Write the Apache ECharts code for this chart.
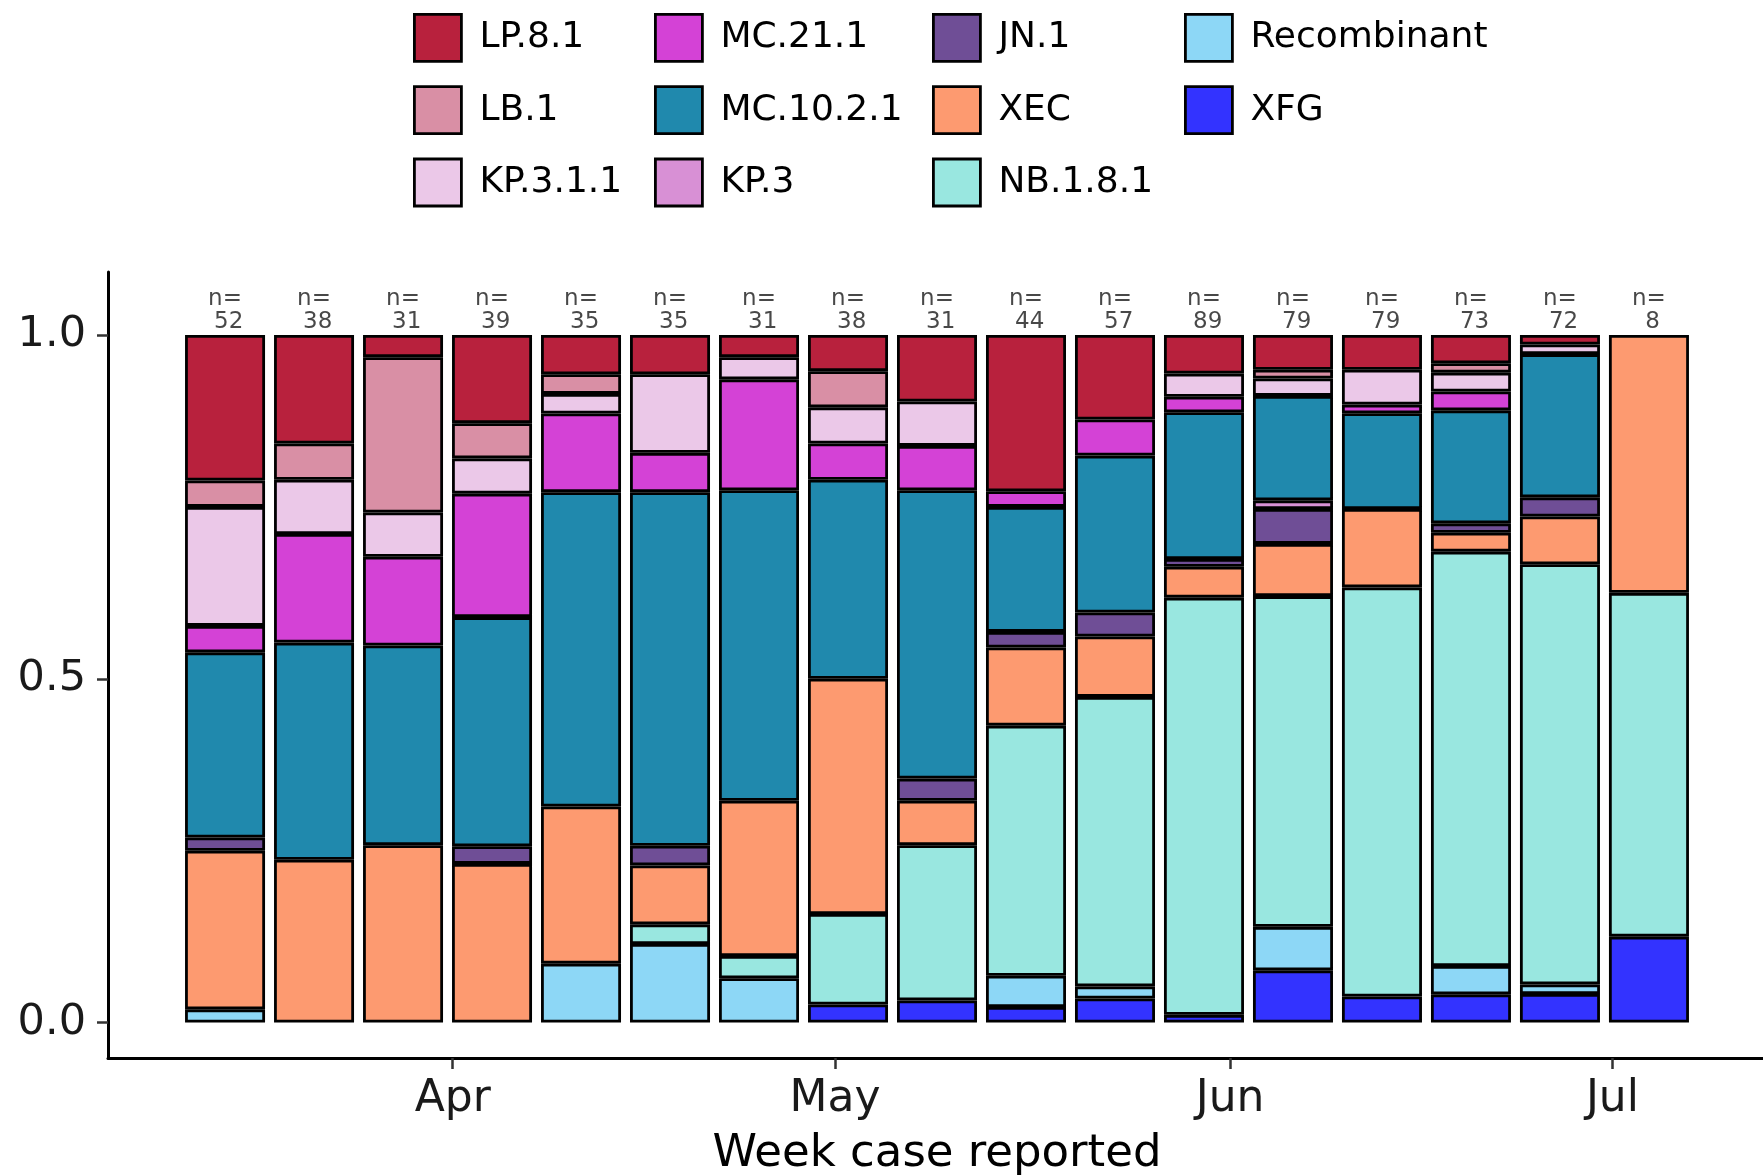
<!DOCTYPE html>
<html>
<head>
<meta charset="utf-8">
<script src="https://cdn.jsdelivr.net/npm/echarts@6/dist/echarts.min.js"></script>
<style>
  html, body { margin: 0; padding: 0; background: #ffffff; }
  #chart { width: 1763px; height: 1176px; }
</style>
</head>
<body>
<div id="chart"></div>
<script>
// Reporting weeks (week date used as bar centre)
const weeks = [
  '2025-03-14', '2025-03-21', '2025-03-28', '2025-04-04', '2025-04-11', '2025-04-18',
  '2025-04-25', '2025-05-02', '2025-05-09', '2025-05-16', '2025-05-23', '2025-05-30',
  '2025-06-06', '2025-06-13', '2025-06-20', '2025-06-27', '2025-07-04'
];

// Sequenced cases per week
const sampleSizes = [52, 38, 31, 39, 35, 35, 31, 38, 31, 44, 57, 89, 79, 79, 73, 72, 8];

// Case counts per lineage per week
const lp81        = [11, 6, 1, 5, 2, 2, 1, 2, 3, 10, 7, 5, 4, 4, 3, 1, 0];
const lb1         = [2, 2, 7, 2, 1, 0, 0, 2, 0, 0, 0, 0, 1, 0, 1, 0, 0];
const kp311       = [9, 3, 2, 2, 1, 4, 1, 2, 2, 0, 0, 3, 2, 4, 2, 1, 0];
const mc211       = [2, 6, 4, 7, 4, 2, 5, 2, 2, 1, 3, 2, 0, 1, 2, 0, 0];
const mc1021      = [14, 12, 9, 13, 16, 18, 14, 11, 13, 8, 13, 19, 12, 11, 12, 15, 0];
const kp3         = [0, 0, 0, 0, 0, 0, 0, 0, 0, 0, 0, 0, 1, 0, 0, 0, 0];
const jn1         = [1, 0, 0, 1, 0, 1, 0, 0, 1, 1, 2, 1, 4, 0, 1, 2, 0];
const xec         = [12, 9, 8, 9, 8, 3, 7, 13, 2, 5, 5, 4, 6, 9, 2, 5, 3];
const nb181       = [0, 0, 0, 0, 0, 1, 1, 5, 7, 16, 24, 54, 38, 47, 44, 44, 4];
const recombinant = [1, 0, 0, 0, 3, 4, 2, 0, 0, 2, 1, 0, 5, 0, 3, 1, 0];
const xfg         = [0, 0, 0, 0, 0, 0, 0, 1, 1, 1, 2, 1, 6, 3, 3, 3, 1];

// Lineages in legend order (top of each stack first)
const lineages = ['LP.8.1', 'LB.1', 'KP.3.1.1', 'MC.21.1', 'MC.10.2.1', 'KP.3', 'JN.1', 'XEC', 'NB.1.8.1', 'Recombinant', 'XFG'];
const lineageCounts = [lp81, lb1, kp311, mc211, mc1021, kp3, jn1, xec, nb181, recombinant, xfg];

// Month ticks on the date axis
const monthTicks = ['2025-04-01', '2025-05-01', '2025-06-01', '2025-07-01'];
const monthNames = ['Jan', 'Feb', 'Mar', 'Apr', 'May', 'Jun', 'Jul', 'Aug', 'Sep', 'Oct', 'Nov', 'Dec'];

// Y tick labels
const yTicks = [0, 0.5, 1.0];

// Fill colours per lineage
const lineageColours = {
  'LP.8.1': '#B8213D',
  'LB.1': '#D98FA5',
  'KP.3.1.1': '#EBC8E8',
  'MC.21.1': '#D442D6',
  'MC.10.2.1': '#2089AD',
  'KP.3': '#D890D5',
  'JN.1': '#6F4E96',
  'XEC': '#FD9A70',
  'NB.1.8.1': '#99E7E0',
  'Recombinant': '#8DD7F6',
  'XFG': '#3333FF'
};

const FONT = 'DejaVu Sans';
const DAY = 24 * 3600 * 1000;
const toTime = (s) => new Date(s + 'T00:00:00Z').getTime();

const weekTimes = weeks.map(toTime);
const tickTimes = monthTicks.map(toTime);
const firstWeek = weekTimes[0];
const lastWeek = weekTimes[weekTimes.length - 1];

// Visible date range of the panel
const xMin = firstWeek - 9.05 * DAY;
const xMax = lastWeek + 9.05 * DAY;
// The bar axis widens its own range by half a bar on each side,
// so it is given a tighter range that lands on the same visible span.
const barAxisMin = firstWeek - 6.06 * DAY;
const barAxisMax = lastWeek + 6.06 * DAY;

// Stacked bars: first series sits at the bottom, so build from XFG upwards.
// Every series keeps one entry per week so the stack lines up;
// empty weeks get no outline so they leave no stray line.
const barSeries = lineages.slice().reverse().map((name) => {
  const counts = lineageCounts[lineages.indexOf(name)];
  const data = counts.map((c, i) => {
    const item = { value: [weekTimes[i], c / sampleSizes[i]] };
    if (c === 0) item.itemStyle = { borderWidth: 0, opacity: 0 };
    return item;
  });
  return {
    name: name,
    type: 'bar',
    stack: 'share',
    xAxisIndex: 0,
    barWidth: 80,
    data: data,
    itemStyle: {
      color: lineageColours[name],
      borderColor: '#000000',
      borderWidth: 2.8
    },
    emphasis: { disabled: true }
  };
});

// "n=" labels above each bar
const sizeLabels = {
  name: 'sample size',
  type: 'scatter',
  xAxisIndex: 0,
  symbolSize: 1,
  silent: true,
  data: weekTimes.map((t, i) => [t, 1, sampleSizes[i]]),
  itemStyle: { color: 'rgba(0,0,0,0)' },
  label: {
    show: true,
    position: 'top',
    distance: 1,
    formatter: (p) => 'n=\n ' + p.value[2],
    fontFamily: FONT,
    fontSize: 23,
    lineHeight: 23,
    color: '#1a1a1a',
    align: 'center'
  },
  z: 5
};

const legendCommon = {
  orient: 'vertical',
  top: 8,
  itemWidth: 47,
  itemHeight: 47,
  itemGap: 22.5,
  selectedMode: false,
  icon: 'rect',
  itemStyle: { borderColor: '#000000', borderWidth: 2.8 },
  textStyle: {
    fontFamily: FONT,
    fontSize: 36,
    color: '#000000',
    padding: [0, 0, 0, 13]
  }
};

const option = {
  animation: false,
  backgroundColor: '#ffffff',
  legend: [
    Object.assign({}, legendCommon, { left: 408, data: ['LP.8.1', 'LB.1', 'KP.3.1.1'] }),
    Object.assign({}, legendCommon, { left: 649, data: ['MC.21.1', 'MC.10.2.1', 'KP.3'] }),
    Object.assign({}, legendCommon, { left: 927, data: ['JN.1', 'XEC', 'NB.1.8.1'] }),
    Object.assign({}, legendCommon, { left: 1179, data: ['Recombinant', 'XFG'] })
  ],
  grid: {
    left: 108,
    top: 272,
    width: 1658,
    height: 786,
    outerBoundsMode: 'none',
    containLabel: false
  },
  xAxis: [
    {
      // date scale that places the weekly bars
      type: 'time',
      position: 'bottom',
      min: barAxisMin,
      max: barAxisMax,
      splitLine: { show: false },
      axisLine: { show: false },
      axisTick: { show: false },
      axisLabel: { show: false }
    },
    {
      // same date span, carrying the month ticks, line and title
      type: 'value',
      position: 'bottom',
      min: xMin,
      max: xMax,
      name: 'Week case reported',
      nameLocation: 'middle',
      nameGap: 74,
      nameTextStyle: { fontFamily: FONT, fontSize: 45, color: '#000000' },
      splitLine: { show: false },
      axisLine: { onZero: false, lineStyle: { color: '#000000', width: 3 } },
      axisTick: {
        show: true,
        length: 11,
        customValues: tickTimes,
        lineStyle: { color: '#333333', width: 2.5 }
      },
      axisLabel: {
        customValues: tickTimes,
        formatter: (v) => monthNames[new Date(v).getUTCMonth()],
        fontFamily: FONT,
        fontSize: 44,
        color: '#1a1a1a',
        margin: 20
      }
    }
  ],
  yAxis: {
    type: 'value',
    min: -0.0515,
    max: 1.0916,
    splitLine: { show: false },
    axisLine: { show: true, onZero: false, lineStyle: { color: '#000000', width: 3 } },
    axisTick: {
      show: true,
      length: 11,
      customValues: yTicks,
      lineStyle: { color: '#333333', width: 2.5 }
    },
    axisLabel: {
      customValues: yTicks,
      formatter: (v) => v.toFixed(1),
      fontFamily: FONT,
      fontSize: 43,
      color: '#1a1a1a',
      margin: 22
    }
  },
  series: barSeries.concat([sizeLabels])
};

const chart = echarts.init(document.getElementById('chart'), null, { renderer: 'canvas' });
chart.setOption(option);
</script>
</body>
</html>
